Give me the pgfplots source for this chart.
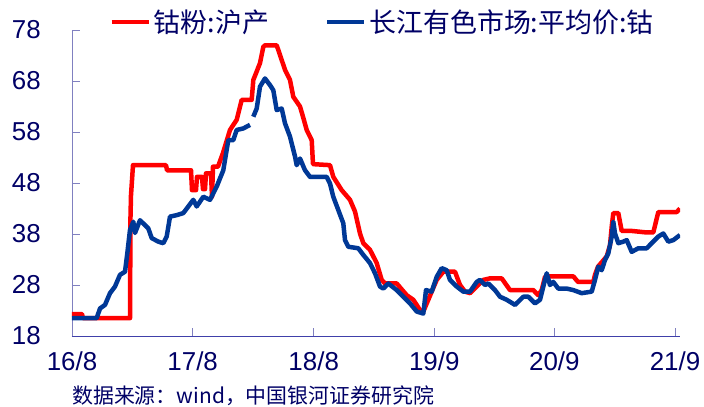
\documentclass[border=0pt]{standalone}
\usepackage{pgfplots}
\pgfplotsset{compat=1.18}
\usepackage{pgfplotstable}
\usepackage{fontspec}
\setmainfont{Liberation Sans}
\newfontfamily\cjk{Noto Sans CJK SC}
\definecolor{navy}{RGB}{0,0,102}
\definecolor{cred}{RGB}{255,0,0}
\definecolor{cblue}{RGB}{0,56,150}
\definecolor{axisdark}{RGB}{64,64,170}
\definecolor{axislight}{RGB}{128,128,192}

\pgfplotstableread{
x y
0 22.3
10 22.3
11 21.5
58 21.5
58.5 41.4
59 45.6
61 51.5
94 51.5
95 50.5
119 50.5
120 46.6
124 46.6
125 49.2
130 49.2
131 46.8
133 46.8
134 49.9
139 49.9
140 45.3
141 51.2
146 51.2
151 53.9
158 58.4
164.7 60.4
169.7 64.3
179.7 64.3
181.3 68.2
188 71.5
191.3 74.7
193 75.0
204.7 75.0
208 73.1
213 70.2
218 68.2
221.3 64.9
228 63.0
231 61.0
234.7 58.4
239.7 56.4
241 51.7
258 51.5
261.3 49.2
269.7 46.6
278 44.7
283 42.4
288 38.1
291.3 36.2
298 34.9
304.7 32.3
309.7 29.0
313 28.3
324.7 28.3
334.7 26.0
341.3 25.1
348 23.1
351.3 22.8
356.3 25.1
359.7 26.7
364.7 29.0
371.3 30.6
383 30.6
388 28.0
393 26.7
398 26.4
404.7 27.7
411.3 29.0
418 29.3
429.7 29.3
438 27.0
461.3 27.0
466.3 26.0
469.7 27.0
473 29.6
474.7 29.7
501.3 29.7
506 28.6
521.3 28.6
523 30.0
526 31.6
534.7 33.6
538 35.8
539.7 39.4
541.3 42.1
546.3 42.1
549.7 38.6
559.7 38.6
574.7 38.3
581.3 38.3
586.3 42.3
604.7 42.3
608 43.0
}\redtab

\pgfplotstableread{
x y
0 21.5
24.7 21.5
28 23.4
33 24.1
38 26.4
43 27.7
48 30.0
53 30.6
55.3 34.2
58 38.8
61.3 40.4
63 38.2
68 40.7
76.3 39.1
79.7 37.2
86.3 36.5
91.3 36.2
94.7 37.5
98 41.4
104.7 41.7
111.3 42.1
121.3 44.7
124.7 43.4
131.3 45.3
138 44.7
141.3 46.0
144.7 47.3
151.3 50.5
154.7 54.5
156.3 56.4
161.3 56.4
164.7 58.4
171.3 58.7
178 59.4
179.5 nan
181.3 61.0
184.7 62.6
188 66.9
193 68.5
198 67.2
201.3 66.2
204.7 62.3
209.7 62.6
213 59.7
218 57.1
223 53.2
224.7 51.5
228 52.8
233 50.5
238 49.2
254.7 49.2
258 47.9
261.3 45.3
266.3 42.7
271.3 40.1
273 36.8
276.3 35.5
286.3 35.2
291.3 33.9
298 32.3
303 30.3
308 27.7
311.3 27.3
316.3 28.3
324.7 27.0
331.3 25.7
338 24.4
344.7 22.8
351.3 22.4
354 27.0
359.7 26.7
364.7 29.6
369.7 31.3
374.7 30.9
378 29.0
384.7 27.7
391.3 26.7
398 26.7
404.7 28.6
408 29.0
413 28.0
416.3 28.3
423 27.0
428 25.7
434.7 25.1
443 24.1
451.3 25.7
456.3 25.7
463 24.4
468 25.1
471.3 27.7
474.7 30.3
478 28.0
481.3 28.6
486.3 27.3
494.7 27.3
501.3 27.0
509.7 26.4
519.7 26.7
523 29.0
526.3 31.6
529.7 30.9
533 32.9
536.3 34.2
539.7 37.5
541.3 40.4
543 38.1
546.3 36.2
551.3 36.5
554.7 36.8
559.7 34.5
566.3 35.2
574.7 35.2
579.7 36.2
586.3 37.5
591.3 38.1
596.3 36.5
601.3 36.8
608 37.8
}\bluetab

\begin{document}
\begin{tikzpicture}
\path[use as bounding box] (-72bp,-71bp) rectangle (632bp,336bp);
\begin{axis}[
  at={(0,0)}, anchor=south west,
  scale only axis,
  width=608bp, height=306bp,
  xmin=0, xmax=608, ymin=18, ymax=78,
  axis x line=bottom, axis y line=left,
  x axis line style={-, draw=axisdark, line width=0.9bp},
  y axis line style={-, draw=axislight, line width=0.9bp},
  tick align=inside,
  major tick length=8bp,
  xtick={0,120.7,241.7,362.3,482.3,603},
  xticklabels={16/8,17/8,18/8,19/9,20/9,21/9},
  ytick={18,28,38,48,58,68,78},
  tick style={draw=axislight, line width=0.8bp},
  ticklabel style={font=\fontsize{26}{30}\selectfont, text=navy, inner sep=0pt},
  yticklabel style={xshift=-31bp},
  xticklabel style={yshift=-16bp},
  /pgf/number format/assume math mode=true,
  unbounded coords=jump,
  legend columns=2,
  legend style={at={(0.5115,1.026)}, anchor=center, draw=none, fill=none,
    font=\cjk\fontsize{27}{30}\selectfont, text=navy, inner sep=0pt,
    nodes={inner sep=3bp},
    /tikz/every even column/.append style={column sep=53bp}},
  legend image code/.code={\draw[#1] (0bp,0bp) -- (37bp,0bp);},
]
\addplot[cred, line width=4.5bp, line join=round] table[x=x,y=y] {\redtab};
\addlegendentry{钴粉:沪产}
\addplot[cblue, line width=4.5bp, line join=round] table[x=x,y=y] {\bluetab};
\addlegendentry{长江有色市场:平均价:钴}
\end{axis}
\node[anchor=west, font=\cjk\fontsize{21}{24}\selectfont, text=navy, inner sep=0pt] at (0bp,-60bp) {数据来源：wind，中国银河证券研究院};
\end{tikzpicture}
\end{document}
